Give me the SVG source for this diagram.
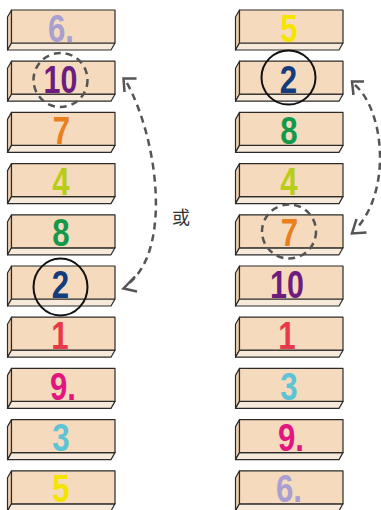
<svg xmlns="http://www.w3.org/2000/svg" width="381" height="510" viewBox="0 0 381 510">
<style>
.face{fill:#f6dabd;stroke:#2b2b2b;stroke-width:1.2;stroke-linejoin:round}
.side{fill:#efd0b0;stroke:#2b2b2b;stroke-width:1.2;stroke-linejoin:round}
.strip{fill:#f8eadb;stroke:#2b2b2b;stroke-width:1.2;stroke-linejoin:round}
.num{font-family:"Liberation Sans",Arial,sans-serif;font-weight:bold;font-size:39px;text-anchor:middle}
.dash{fill:none;stroke:#555;stroke-width:2.5;stroke-dasharray:7 5}
.solid{fill:none;stroke:#111;stroke-width:2}
.arr{fill:none;stroke:#555;stroke-width:2.5;stroke-dasharray:7 5}
.head{fill:none;stroke:#555;stroke-width:2.5;stroke-linejoin:miter}
.or{font-family:"Noto Sans CJK SC","Noto Sans",sans-serif;font-size:18px;fill:#333;text-anchor:middle}
</style>
<defs>
<g id="block">
<polygon class="side" points="0,0 -4,7 -4,40 0,33"/>
<polygon class="strip" points="0,33 103.5,33 99.5,40 -4,40"/>
<rect class="face" x="0" y="0" width="103.5" height="33"/>
</g>
</defs>

<g id="left-6"><use href="#block" x="11.5" y="10"/><text class="num" fill="#a99fd1" transform="translate(61,41.5) scale(0.8,1)">6.</text></g>
<g id="left-10"><use href="#block" x="11.5" y="61.2"/><text class="num" fill="#6c1d7d" transform="translate(60.5,92.7) scale(0.78,1)">10</text><circle class="dash" cx="60.5" cy="80" r="27"/></g>
<g id="left-7"><use href="#block" x="11.5" y="112.4"/><text class="num" fill="#e8801f" transform="translate(61.5,143.9) scale(0.8,1)">7</text></g>
<g id="left-4"><use href="#block" x="11.5" y="163.6"/><text class="num" fill="#b8cd18" transform="translate(61,195.1) scale(0.8,1)">4</text></g>
<g id="left-8"><use href="#block" x="11.5" y="214.8"/><text class="num" fill="#14994b" transform="translate(61,246.3) scale(0.8,1)">8</text></g>
<g id="left-2"><use href="#block" x="11.5" y="266"/><text class="num" fill="#123c7b" transform="translate(60.5,297.5) scale(0.8,1)">2</text><ellipse class="solid" cx="60.5" cy="287" rx="27" ry="28.5"/></g>
<g id="left-1"><use href="#block" x="11.5" y="317.2"/><text class="num" fill="#e8394b" transform="translate(60,348.7) scale(0.8,1)">1</text></g>
<g id="left-9"><use href="#block" x="11.5" y="368.4"/><text class="num" fill="#e2167f" transform="translate(63,399.9) scale(0.8,1)">9.</text></g>
<g id="left-3"><use href="#block" x="11.5" y="419.6"/><text class="num" fill="#5cc4d5" transform="translate(61,451.1) scale(0.8,1)">3</text></g>
<g id="left-5"><use href="#block" x="11.5" y="470.8"/><text class="num" fill="#f5e400" transform="translate(61,502.3) scale(0.8,1)">5</text></g>

<g id="right-5"><use href="#block" x="239.5" y="10"/><text class="num" fill="#f5e400" transform="translate(289,41.5) scale(0.8,1)">5</text></g>
<g id="right-2"><use href="#block" x="239.5" y="61.2"/><text class="num" fill="#123c7b" transform="translate(288.5,92.7) scale(0.8,1)">2</text><circle class="solid" cx="288.5" cy="77.5" r="27"/></g>
<g id="right-8"><use href="#block" x="239.5" y="112.4"/><text class="num" fill="#14994b" transform="translate(289,143.9) scale(0.8,1)">8</text></g>
<g id="right-4"><use href="#block" x="239.5" y="163.6"/><text class="num" fill="#b8cd18" transform="translate(289,195.1) scale(0.8,1)">4</text></g>
<g id="right-7"><use href="#block" x="239.5" y="214.8"/><text class="num" fill="#e8801f" transform="translate(289.5,246.3) scale(0.8,1)">7</text><circle class="dash" cx="289" cy="231.5" r="27"/></g>
<g id="right-10"><use href="#block" x="239.5" y="266"/><text class="num" fill="#6c1d7d" transform="translate(287,297.5) scale(0.78,1)">10</text></g>
<g id="right-1"><use href="#block" x="239.5" y="317.2"/><text class="num" fill="#e8394b" transform="translate(287,348.7) scale(0.8,1)">1</text></g>
<g id="right-3"><use href="#block" x="239.5" y="368.4"/><text class="num" fill="#5cc4d5" transform="translate(289,399.9) scale(0.8,1)">3</text></g>
<g id="right-9"><use href="#block" x="239.5" y="419.6"/><text class="num" fill="#e2167f" transform="translate(291,451.1) scale(0.8,1)">9.</text></g>
<g id="right-6"><use href="#block" x="239.5" y="470.8"/><text class="num" fill="#a99fd1" transform="translate(289,502.3) scale(0.8,1)">6.</text></g>

<g id="connectors">
<path class="arr" d="M127,83 C158,140 172,250 128,284"/>
<polyline class="head" points="136.5,78.5 123.5,78.5 124.5,92"/>
<polyline class="head" points="135,276.5 123.5,288.5 137,291.5"/>
<path class="arr" d="M355,85 C384,110 392,190 356,229"/>
<polyline class="head" points="364,81.5 352,81.5 353.5,95"/>
<polyline class="head" points="356.5,219 352,233.5 366.5,232.5"/>
</g>
<text class="or" x="181" y="223.5">或</text>
</svg>
